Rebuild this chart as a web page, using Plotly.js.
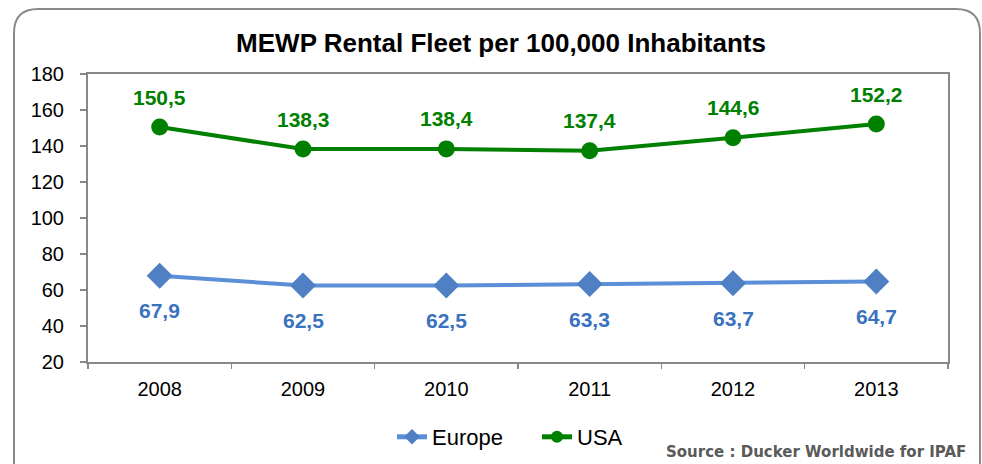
<!DOCTYPE html>
<html>
<head>
<meta charset="utf-8">
<script src="https://cdn.plot.ly/plotly-3.0.1.min.js"></script>
<style>html,body{margin:0;padding:0;background:#fff;}#chart{width:982px;height:464px;}</style>
</head>
<body>
<div id="chart"></div>
<script>
const years = ['2008', '2009', '2010', '2011', '2012', '2013'];
const europe = [67.9, 62.5, 62.5, 63.3, 63.7, 64.7];
const usa = [150.5, 138.3, 138.4, 137.4, 144.6, 152.2];
const europeLabels = ['67,9', '62,5', '62,5', '63,3', '63,7', '64,7'];
const usaLabels = ['150,5', '138,3', '138,4', '137,4', '144,6', '152,2'];
const yTicks = [20, 40, 60, 80, 100, 120, 140, 160, 180];

const W = 982, H = 464, L = 88, R = 34, T = 74, B = 102;
const pw = W - L - R, ph = H - T - B;
const px = x => (x - L) / pw;
const py = y => (H - B - y) / ph;

function roundRect(x0, y0, x1, y1, r) {
  const P = (x, y) => px(x).toFixed(5) + ',' + py(y).toFixed(5);
  return 'M' + P(x0 + r, y0) + ' L' + P(x1 - r, y0) + ' Q' + P(x1, y0) + ' ' + P(x1, y0 + r) +
    ' L' + P(x1, y1 - r) + ' Q' + P(x1, y1) + ' ' + P(x1 - r, y1) +
    ' L' + P(x0 + r, y1) + ' Q' + P(x0, y1) + ' ' + P(x0, y1 - r) +
    ' L' + P(x0, y0 + r) + ' Q' + P(x0, y0) + ' ' + P(x0 + r, y0) + ' Z';
}

const font = '"Liberation Sans", Arial, sans-serif';

const traces = [
  {
    x: years, y: europe, name: 'Europe', type: 'scatter', mode: 'lines+markers',
    line: {color: '#5b8fd8', width: 4},
    marker: {symbol: 'diamond', size: 20, color: '#4f80c4'}
  },
  {
    x: years, y: usa, name: 'USA', type: 'scatter', mode: 'lines+markers',
    line: {color: '#008000', width: 4},
    marker: {symbol: 'circle', size: 17, color: '#008000'}
  }
];

const annotations = [];
years.forEach((yr, i) => {
  annotations.push({x: i, y: usa[i], xref: 'x', yref: 'y', text: usaLabels[i], showarrow: false,
    yshift: 30, font: {family: font, size: 21, color: '#008000', weight: 'bold'}});
  annotations.push({x: i, y: europe[i], xref: 'x', yref: 'y', text: europeLabels[i], showarrow: false,
    yshift: -35, font: {family: font, size: 21, color: '#3a72c0', weight: 'bold'}});
});
annotations.push({x: px(968), y: py(452), xref: 'paper', yref: 'paper', xanchor: 'right', yanchor: 'middle',
  text: 'Source : Ducker Worldwide for IPAF', showarrow: false,
  font: {family: '"DejaVu Sans", sans-serif', size: 15, color: '#5a5a5a', weight: 'bold'}});

const layout = {
  width: W, height: H,
  margin: {l: L, r: R, t: T, b: B, pad: 0},
  paper_bgcolor: '#fff', plot_bgcolor: '#fff',
  title: {text: '<b>MEWP Rental Fleet per 100,000 Inhabitants</b>', x: 501 / W, xref: 'container', xanchor: 'center',
    y: 1 - 43 / H, yref: 'container', yanchor: 'middle', automargin: false,
    font: {family: font, size: 26, color: '#000'}},
  showlegend: true,
  legend: {orientation: 'h', xref: 'container', yref: 'container', x: 392 / W, y: 1 - 437 / H,
    xanchor: 'left', yanchor: 'middle', entrywidth: 100, entrywidthmode: 'pixels',
    font: {family: font, size: 22, color: '#000'}, itemsizing: 'constant', tracegroupgap: 0,
    bgcolor: 'rgba(0,0,0,0)'},
  xaxis: {type: 'category', range: [-0.5, 5.5], showgrid: false, zeroline: false, automargin: false,
    showline: true, linecolor: '#888', linewidth: 2, mirror: true,
    ticks: 'outside', tickson: 'boundaries', ticklen: 5, tickcolor: '#888', tickwidth: 1.5,
    ticklabelstandoff: 8,
    tickfont: {family: font, size: 20, color: '#000'}, fixedrange: true},
  yaxis: {range: [20, 180], tickvals: yTicks, ticktext: yTicks.map(String), showgrid: false, zeroline: false,
    automargin: false,
    showline: true, linecolor: '#888', linewidth: 2, mirror: true,
    ticks: 'outside', ticklen: 6, tickcolor: '#888', tickwidth: 1.5,
    ticklabelstandoff: 12,
    tickfont: {family: font, size: 20, color: '#000'}, fixedrange: true},
  annotations: annotations,
  shapes: [{type: 'path', xref: 'paper', yref: 'paper', path: roundRect(14, 9, 980, 490, 24),
    line: {color: '#8a8a8a', width: 2}, fillcolor: 'rgba(0,0,0,0)', layer: 'below'}]
};

Plotly.newPlot('chart', traces, layout, {displayModeBar: false, staticPlot: true});
</script>
</body>
</html>
